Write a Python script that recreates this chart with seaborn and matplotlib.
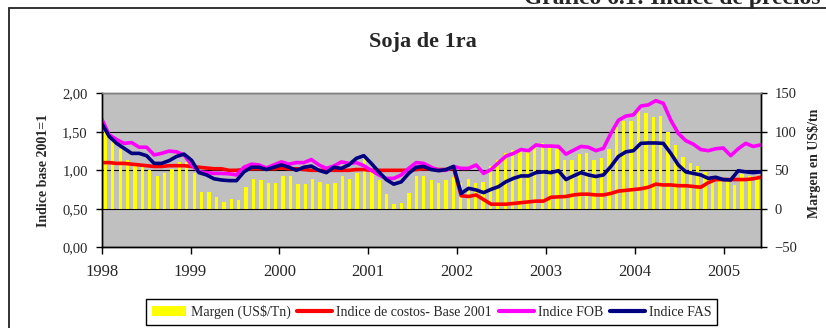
import numpy as np
import matplotlib
matplotlib.use("Agg")
import matplotlib.pyplot as plt
from matplotlib.patches import Patch, Rectangle
from matplotlib.lines import Line2D
import seaborn as sns

# Monthly series, January 1998 to May 2005
years = [1998, 1999, 2000, 2001, 2002, 2003, 2004, 2005]

# Margin in US$/tn (right axis)
margen = [105, 88, 78, 64, 56, 57, 51, 43, 46, 52, 61, 61,
          46, 22, 22, 15, 9, 13, 12, 28, 39, 38, 34, 34,
          42, 42, 32, 32, 39, 35, 32, 33, 42, 39, 47, 66,
          48, 37, 19, 6, 8, 20, 42, 43, 38, 34, 38, 41,
          33, 39, 34, 35, 56, 64, 72, 77, 78, 74, 82, 85,
          79, 78, 63, 64, 71, 72, 64, 66, 78, 106, 114, 114,
          128, 125, 119, 120, 100, 83, 67, 59, 56, 48, 38, 40,
          38, 31, 45, 43, 43]

# Cost index, base 2001 = 1 (left axis)
costos = [1.10, 1.10, 1.09, 1.09, 1.08, 1.07, 1.06, 1.05, 1.05, 1.06, 1.06, 1.06,
          1.05, 1.04, 1.03, 1.02, 1.02, 1.00, 1.00, 1.01, 1.02, 1.02, 1.02, 1.02,
          1.03, 1.02, 1.02, 1.01, 1.00, 1.00, 1.00, 1.00, 1.00, 1.00, 1.01, 1.01,
          1.00, 1.00, 1.00, 1.00, 1.00, 1.00, 1.01, 1.02, 1.02, 1.01, 1.01, 1.03,
          0.67, 0.66, 0.68, 0.62, 0.56, 0.56, 0.56, 0.57, 0.58, 0.59, 0.60, 0.60,
          0.65, 0.655, 0.66, 0.68, 0.69, 0.69, 0.68, 0.68, 0.70, 0.73, 0.74, 0.75,
          0.76, 0.78, 0.82, 0.81, 0.81, 0.80, 0.80, 0.79, 0.78, 0.84, 0.88, 0.88,
          0.88, 0.88, 0.88, 0.89, 0.91]

# FOB price index
fob = [1.67, 1.46, 1.40, 1.35, 1.36, 1.30, 1.30, 1.20, 1.22, 1.25, 1.24, 1.20,
       1.07, 0.98, 0.97, 0.96, 0.96, 0.955, 0.94, 1.04, 1.08, 1.07, 1.03, 1.07,
       1.11, 1.08, 1.10, 1.10, 1.14, 1.07, 1.025, 1.055, 1.11, 1.09, 1.10, 1.06,
       1.00, 0.94, 0.895, 0.895, 0.94, 1.025, 1.10, 1.09, 1.04, 1.00, 1.00, 1.05,
       1.025, 1.025, 1.07, 0.96, 1.01, 1.10, 1.185, 1.22, 1.27, 1.255, 1.33, 1.315,
       1.315, 1.31, 1.21, 1.26, 1.31, 1.30, 1.255, 1.285, 1.48, 1.65, 1.705, 1.72,
       1.835, 1.85, 1.905, 1.87, 1.65, 1.48, 1.385, 1.34, 1.27, 1.255, 1.28, 1.29,
       1.19, 1.28, 1.35, 1.31, 1.33]

# FAS price index
fas = [1.61, 1.44, 1.35, 1.285, 1.22, 1.22, 1.19, 1.09, 1.09, 1.125, 1.18, 1.21,
       1.13, 0.97, 0.94, 0.89, 0.874, 0.866, 0.866, 0.98, 1.04, 1.04, 1.01, 1.04,
       1.07, 1.04, 1.00, 1.04, 1.055, 1.00, 0.97, 1.04, 1.025, 1.07, 1.155, 1.19,
       1.09, 0.98, 0.88, 0.82, 0.85, 0.96, 1.04, 1.05, 1.01, 0.995, 1.01, 1.05,
       0.70, 0.766, 0.745, 0.71, 0.753, 0.788, 0.853, 0.896, 0.927, 0.927, 0.97, 0.98,
       0.97, 0.995, 0.88, 0.927, 0.97, 0.94, 0.92, 0.94, 1.05, 1.18, 1.24, 1.255,
       1.35, 1.355, 1.355, 1.35, 1.22, 1.07, 0.98, 0.96, 0.94, 0.896, 0.91, 0.88,
       0.874, 0.995, 0.98, 0.97, 0.98]

indice_ticks = [0.0, 0.5, 1.0, 1.5, 2.0]
indice_labels = ["0,00", "0,50", "1,00", "1,50", "2,00"]
margen_ticks = [-50, 0, 50, 100, 150]

series_names = ["Margen (US$/Tn)", "Indice de costos- Base 2001",
                "Indice FOB", "Indice FAS"]
series_colors = ["#FFFF00", "#FF0000", "#FF00FF", "#000080"]

n = len(margen)
start = years[0]
month = np.arange(n)
bar_x = start + (month + 0.5) / 12          # columns centred in each month
line_x = start + month * (n / (n - 1)) / 12  # lines spread over the full span
x_end = start + n / 12

sns.set_style("white")
plt.rcParams["font.family"] = ["Liberation Serif", "DejaVu Serif"]

fig = plt.figure(figsize=(8.26, 3.28), dpi=100)

# outer chart frame
fig.patches.append(Rectangle((9 / 826, -0.2), 1.2, 0.2 + (328 - 7.5) / 328,
                             transform=fig.transFigure, fill=False,
                             edgecolor="#222222", linewidth=1.3))
fig.text(821 / 826, 1 - 4 / 328, "Gráfico 6.1: Índice de precios",
         ha="right", va="baseline", fontsize=17, fontweight="bold")

ax = fig.add_axes([0.1231, 0.246, 0.7978, 0.4695])
ax2 = ax.twinx()

ax.set_facecolor("#C0C0C0")
sns.barplot(x=bar_x, y=margen, native_scale=True, color=series_colors[0],
            saturation=1, width=0.45, linewidth=0, ax=ax, zorder=2)

for vals, col in zip([costos, fob, fas], series_colors[1:]):
    sns.lineplot(x=line_x, y=vals, color=col, linewidth=2.6, ax=ax2,
                 legend=False, solid_capstyle="round", solid_joinstyle="round")

ax.set_xlim(start, x_end)
ax.set_xticks(years)
ax.set_xticklabels([str(y) for y in years])
ax.set_ylim(margen_ticks[0], margen_ticks[-1])
ax.set_yticks(margen_ticks)
ax2.set_ylim(indice_ticks[0], indice_ticks[-1])
ax2.set_yticks(indice_ticks)
ax2.set_yticklabels(indice_labels)

# margin axis on the right, index axis on the left
ax.yaxis.tick_right()
ax2.yaxis.tick_left()
ax.set_axisbelow(True)
ax.yaxis.grid(True, color="black", linewidth=0.8)
ax.xaxis.grid(False)

for a in (ax, ax2):
    for side in ("left", "right", "bottom"):
        a.spines[side].set_color("black")
        a.spines[side].set_linewidth(1.0)
    a.spines["top"].set_color("#808080")
    a.spines["top"].set_linewidth(1.0)

ax.tick_params(axis="x", bottom=True, direction="out", length=5, width=1,
               color="black", labelsize=12, pad=7)
ax.tick_params(axis="y", right=True, left=False, labelright=True, labelleft=False,
               direction="out", length=4, width=1, color="black",
               labelsize=10.5, pad=6)
ax2.tick_params(axis="y", left=True, right=False, labelleft=True, labelright=False,
                direction="out", length=4, width=1, color="black",
                labelsize=10.5, pad=6)

ax.set_xlabel("")
ax2.set_ylabel("Indice base 2001=1", fontsize=10, fontweight="bold")
ax2.yaxis.set_label_position("left")
ax2.yaxis.set_label_coords(-0.0785, 0.5)
ax.set_ylabel("Margen en US\\$/tn", fontsize=10, fontweight="bold", rotation=90)
ax.yaxis.set_label_position("right")
ax.yaxis.set_label_coords(1.0700, 0.544)

fig.text(0.512, 0.872, "Soja de 1ra", ha="center", va="center",
         fontsize=16, fontweight="bold")

handles = [Patch(facecolor=series_colors[0], edgecolor="none")]
handles += [Line2D([], [], color=c, linewidth=3) for c in series_colors[1:]]
leg = fig.legend(handles, series_names, loc="center",
                 bbox_to_anchor=(0.5224, 0.049), ncol=4, fontsize=10,
                 frameon=True, fancybox=False, edgecolor="black",
                 framealpha=1, handlelength=2.5, handletextpad=0.3,
                 columnspacing=0.5, borderpad=0.4)
leg.get_frame().set_linewidth(1.0)

fig.savefig("out.png", dpi=100)
